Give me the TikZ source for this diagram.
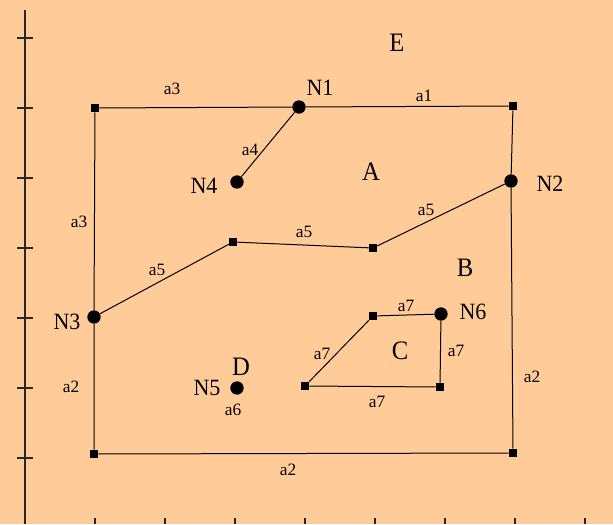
\documentclass[tikz,border=0pt]{standalone}
\usepackage{fontspec}
\setmainfont{Liberation Serif}
\definecolor{bg}{HTML}{FFCC99}
\begin{document}
\begin{tikzpicture}[x=0.75pt,y=-0.75pt,
  sq/.style={fill=black,minimum size=6pt,inner sep=0pt,draw=none,rectangle},
  dot/.style={fill=black,circle,minimum size=10pt,inner sep=0pt,draw=none},
  edge/.style={draw=black,line width=0.75pt},
  ax/.style={draw=black!85,line width=0.8pt},
  big/.style={font=\fontsize{18.5}{18.5}\selectfont,inner sep=0pt,yscale=1.08,transform shape},
  nlab/.style={font=\fontsize{16.5}{16.5}\selectfont,inner sep=0pt,yscale=1.06,transform shape},
  alab/.style={font=\fontsize{13}{13}\selectfont,inner sep=0pt}]
\fill[bg] (0,0) rectangle (613,524);
\useasboundingbox (0,0) rectangle (613,524);
% axes
\coordinate (axT) at (25,10);
\coordinate (axB) at (25,524);
\draw[ax] (axT) -- (axB);
\foreach \yy in {38,108,178,248,318,388,458} {\draw[ax] (17,\yy) -- (33,\yy);}
\foreach \xx in {95,165,235,305,375,445,515,585} {\draw[ax] (\xx,518) -- (\xx,524);}
% points
\node[sq] (TL) at (95,108) {};
\node[dot] (N1) at (299,107) {};
\node[sq] (TR) at (513,106) {};
\node[dot] (N2) at (511,181) {};
\node[dot] (N4) at (237,182) {};
\node[sq] (S1) at (233,242) {};
\node[sq] (S2) at (373,248) {};
\node[dot] (N3) at (94,317) {};
\node[dot] (N5) at (237,388) {};
\node[sq] (C1) at (373,316) {};
\node[dot] (N6) at (441,314) {};
\node[sq] (C2) at (440,387) {};
\node[sq] (C3) at (305,386) {};
\node[sq] (BL) at (94,454) {};
\node[sq] (BR) at (513,453) {};
% edges
\draw[edge] (TL) -- (N1) -- (TR) -- (N2) -- (BR) -- (BL) -- (N3) -- (TL);
\draw[edge] (N1) -- (N4);
\draw[edge] (N3) -- (S1) -- (S2) -- (N2);
\draw[edge] (N6) -- (C1) -- (C3) -- (C2) -- (N6);
% region labels
\node[big] (lE) at (397,43) {E};
\node[big] (lA) at (371,172) {A};
\node[big] (lB) at (465,268) {B};
\node[big] (lC) at (400,351) {C};
\node[big] (lD) at (241,367) {D};
% node labels
\node[nlab] (lN1) at (320,88) {N1};
\node[nlab] (lN2) at (550,184) {N2};
\node[nlab] (lN3) at (67,322) {N3};
\node[nlab] (lN4) at (204,186) {N4};
\node[nlab] (lN5) at (207,388) {N5};
\node[nlab] (lN6) at (473,312) {N6};
% arc labels
\node[alab] (e1) at (172,89) {a3};
\node[alab] (e2) at (424,96) {a1};
\node[alab] (e3) at (250,150) {a4};
\node[alab] (e4) at (79,222) {a3};
\node[alab] (e5) at (304,232) {a5};
\node[alab] (e6) at (426,210) {a5};
\node[alab] (e7) at (157,270) {a5};
\node[alab] (e8) at (71,387) {a2};
\node[alab] (e9) at (233,410) {a6};
\node[alab] (e10) at (406,306) {a7};
\node[alab] (e11) at (322,354) {a7};
\node[alab] (e12) at (456,351) {a7};
\node[alab] (e13) at (377,402) {a7};
\node[alab] (e14) at (532,377) {a2};
\node[alab] (e15) at (288,470) {a2};
\end{tikzpicture}
\end{document}
